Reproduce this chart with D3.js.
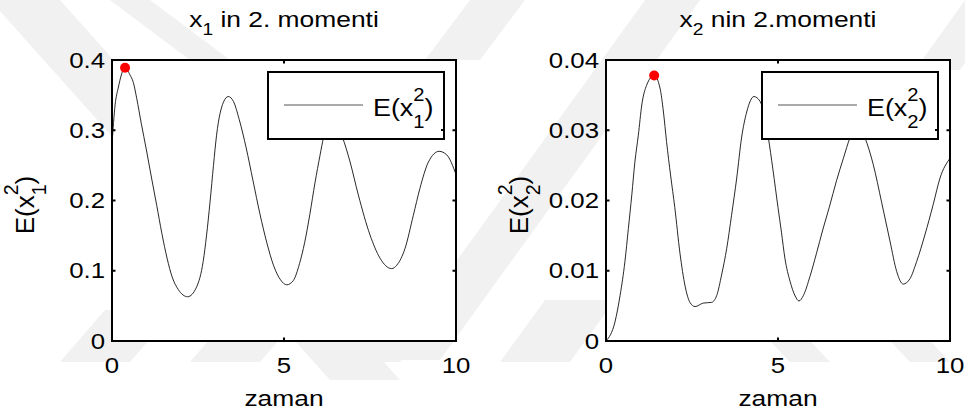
<!DOCTYPE html>
<html>
<head>
<meta charset="utf-8">
<script src="https://cdn.jsdelivr.net/npm/d3@7"></script>
<style>
	body { margin: 0; background: #fff; }
	svg text { font-family: "Liberation Sans", Arial, sans-serif; fill: #000; }
</style>
</head>
<body>
<script>
// time axis (zaman) and second moments
var t1 = [0, 0.09, 0.18, 0.38, 0.52, 0.62, 0.72, 0.85, 1.0, 1.15, 1.3, 1.45, 1.6, 1.75, 1.93, 2.20, 2.46, 2.65, 2.75, 2.85, 2.95, 3.04, 3.24, 3.38, 3.53, 3.7, 3.9, 4.1, 4.3, 4.5, 4.7, 4.9, 5.08, 5.27, 5.45, 5.6, 5.75, 5.9, 6.05, 6.15, 6.40, 6.7, 6.92, 7.16, 7.50, 7.79, 8.13, 8.28, 8.52, 8.76, 8.95, 9.20, 9.51, 9.73, 10];
var m1 = [0.28, 0.336, 0.36, 0.389, 0.379, 0.368, 0.345, 0.31, 0.272, 0.232, 0.193, 0.153, 0.118, 0.091, 0.073, 0.063, 0.077, 0.113, 0.151, 0.198, 0.25, 0.293, 0.34, 0.348, 0.341, 0.315, 0.275, 0.228, 0.181, 0.14, 0.107, 0.087, 0.080, 0.086, 0.11, 0.14, 0.18, 0.225, 0.265, 0.29, 0.318, 0.29, 0.255, 0.208, 0.151, 0.118, 0.103, 0.108, 0.132, 0.179, 0.217, 0.255, 0.27, 0.265, 0.237];

var t2 = [0, 0.26, 0.41, 0.55, 0.65, 0.75, 0.84, 0.94, 1.04, 1.18, 1.40, 1.57, 1.67, 1.76, 1.88, 2.0, 2.15, 2.3, 2.44, 2.59, 2.83, 3.07, 3.22, 3.36, 3.51, 3.65, 3.80, 3.94, 4.09, 4.30, 4.48, 4.72, 4.85, 5.0, 5.1, 5.2, 5.35, 5.5, 5.61, 5.74, 5.93, 6.12, 6.3, 6.5, 6.7, 6.9, 7.09, 7.30, 7.53, 7.77, 8.01, 8.26, 8.45, 8.64, 8.84, 9.03, 9.27, 9.51, 9.71, 10];
var m2 = [0, 0.0027, 0.0065, 0.0113, 0.016, 0.0208, 0.0255, 0.0293, 0.0336, 0.0364, 0.0378, 0.036, 0.0326, 0.0284, 0.0235, 0.019, 0.0125, 0.0078, 0.0055, 0.0049, 0.0054, 0.0055, 0.0065, 0.0094, 0.0132, 0.0179, 0.0232, 0.0289, 0.0326, 0.0348, 0.0341, 0.0289, 0.0245, 0.019, 0.0155, 0.0118, 0.0085, 0.0064, 0.0057, 0.0065, 0.0092, 0.0125, 0.0158, 0.0192, 0.0228, 0.026, 0.0289, 0.031, 0.0289, 0.0251, 0.0198, 0.0141, 0.0099, 0.0081, 0.0089, 0.0113, 0.0151, 0.0194, 0.0232, 0.026];

var xTicks = [0, 5, 10];
var yTicks1 = [0, 0.1, 0.2, 0.3, 0.4];
var yTickLabels1 = ["0", "0.1", "0.2", "0.3", "0.4"];
var yTicks2 = [0, 0.01, 0.02, 0.03, 0.04];
var yTickLabels2 = ["0", "0.01", "0.02", "0.03", "0.04"];

var W = 965, H = 417;
var SX = 1.2;          // picture is stretched sideways
var FS = 21.5;

var svg = d3.select("body").append("svg")
	.attr("width", W)
	.attr("height", H);

// text with stretched glyphs
function stext(g, x, y, anchor, size, sx){
	return g.append("text")
		.attr("transform", "translate(" + x + "," + y + ") scale(" + (sx || SX) + ",1)")
		.attr("text-anchor", anchor)
		.attr("font-size", size || FS);
}

// E(x_i^2) with stacked super/subscript
function moment(txt, idx, fs){
	var s = fs * 0.75;
	txt.append("tspan").text("E(x");
	txt.append("tspan").attr("font-size", s).attr("dy", -0.62 * fs).text("2");
	txt.append("tspan").attr("font-size", s).attr("dx", -0.556 * s).attr("dy", 1.1 * fs).text(idx);
	txt.append("tspan").attr("dy", -0.48 * fs).text(")");
}

function panel(opt){
	var x = d3.scaleLinear().domain([0, 10]).range([opt.left, opt.right]);
	var y = d3.scaleLinear().domain([0, opt.ymax]).range([341, 60]);
	var g = svg.append("g");

	g.append("rect")
		.attr("x", x(0)).attr("y", y(opt.ymax))
		.attr("width", x(10) - x(0)).attr("height", y(0) - y(opt.ymax))
		.attr("fill", "#fff");

	var line = d3.line()
		.x(function(d){ return x(d[0]); })
		.y(function(d){ return y(d[1]); })
		.curve(d3.curveMonotoneX);

	g.append("path")
		.datum(d3.zip(opt.t, opt.m))
		.attr("fill", "none")
		.attr("stroke", "#111")
		.attr("stroke-width", 0.9)
		.attr("d", line);

	// peak marker
	var iMax = d3.maxIndex(opt.m);
	g.append("circle")
		.attr("cx", x(opt.t[iMax]))
		.attr("cy", y(opt.m[iMax]))
		.attr("r", 5)
		.attr("fill", "#f00");

	// axes box
	g.append("rect")
		.attr("x", x(0)).attr("y", y(opt.ymax))
		.attr("width", x(10) - x(0)).attr("height", y(0) - y(opt.ymax))
		.attr("fill", "none").attr("stroke", "#000").attr("stroke-width", 2);

	// inward ticks on all four sides
	var tl = 3.5;
	xTicks.forEach(function(v){
		g.append("line").attr("x1", x(v)).attr("x2", x(v)).attr("y1", y(0)).attr("y2", y(0) - tl)
			.attr("stroke", "#000").attr("stroke-width", 2);
		g.append("line").attr("x1", x(v)).attr("x2", x(v)).attr("y1", y(opt.ymax)).attr("y2", y(opt.ymax) + tl)
			.attr("stroke", "#000").attr("stroke-width", 2);
		stext(g, x(v), 373, "middle").text(v);
	});
	opt.yTicks.forEach(function(v, i){
		g.append("line").attr("x1", x(0)).attr("x2", x(0) + tl).attr("y1", y(v)).attr("y2", y(v))
			.attr("stroke", "#000").attr("stroke-width", 2);
		g.append("line").attr("x1", x(10)).attr("x2", x(10) - tl).attr("y1", y(v)).attr("y2", y(v))
			.attr("stroke", "#000").attr("stroke-width", 2);
		stext(g, x(0) - 7, y(v) + 7.7, "end").text(opt.yLabels[i]);
	});

	var cx = (x(0) + x(10)) / 2;

	// title
	var title = stext(g, cx, 27, "middle", 22);
	title.append("tspan").text("x");
	title.append("tspan").attr("font-size", 16).attr("dy", 8).text(opt.idx);
	title.append("tspan").attr("dy", -8).text(opt.titleRest);

	// x label
	stext(g, cx, 406, "middle", 22).text("zaman");

	// y label, rotated
	var yl = g.append("text")
		.attr("transform", "translate(" + (x(0) - 78) + ",205) rotate(-90)")
		.attr("text-anchor", "middle")
		.attr("font-size", 26);
	moment(yl, opt.idx, 26);

	// legend
	var lx = x(0) + 156, ly = 72, lw = 176, lh = 67;
	g.append("rect")
		.attr("x", lx).attr("y", ly).attr("width", lw).attr("height", lh)
		.attr("fill", "#fff").attr("stroke", "#000").attr("stroke-width", 2);
	g.append("line").attr("x1", lx + lw).attr("x2", lx + lw - 3).attr("y1", ly + 58).attr("y2", ly + 58)
		.attr("stroke", "#000").attr("stroke-width", 2);
	g.append("line").attr("x1", lx + 16).attr("x2", lx + 95).attr("y1", ly + 33).attr("y2", ly + 33)
		.attr("stroke", "#555").attr("stroke-width", 1);
	var lt = stext(g, lx + 105, ly + 44, "start", 24, 1.12);
	moment(lt, opt.idx, 24);
}

// faint watermark stripes in the background
var marks = [
	[[-10, 0], [60, 0], [400, 380], [330, 380]],
	[[110, 0], [150, 0], [230, 60], [190, 60]],
	[[470, 0], [525, 0], [480, 60], [425, 60]],
	[[645, 0], [700, 0], [440, 360], [385, 360]],
	[[965, 0], [1010, 0], [960, 70], [915, 70]],
	[[60, 362], [130, 362], [175, 310], [105, 310]],
	[[190, 362], [260, 362], [305, 310], [235, 310]],
	[[330, 362], [400, 362], [445, 310], [375, 310]],
	[[500, 362], [570, 362], [615, 300], [545, 300]],
	[[760, 330], [800, 330], [830, 362], [790, 362]],
	[[880, 330], [920, 330], [950, 362], [910, 362]]
];
svg.append("g").selectAll("polygon")
	.data(marks).enter().append("polygon")
	.attr("points", function(d){ return d.join(" "); })
	.attr("fill", "#f1f1f1");

panel({left: 112, right: 456, ymax: 0.4, t: t1, m: m1, yTicks: yTicks1, yLabels: yTickLabels1, idx: "1", titleRest: " in 2. momenti"});
panel({left: 606, right: 950, ymax: 0.04, t: t2, m: m2, yTicks: yTicks2, yLabels: yTickLabels2, idx: "2", titleRest: " nin 2.momenti"});
</script>
</body>
</html>
